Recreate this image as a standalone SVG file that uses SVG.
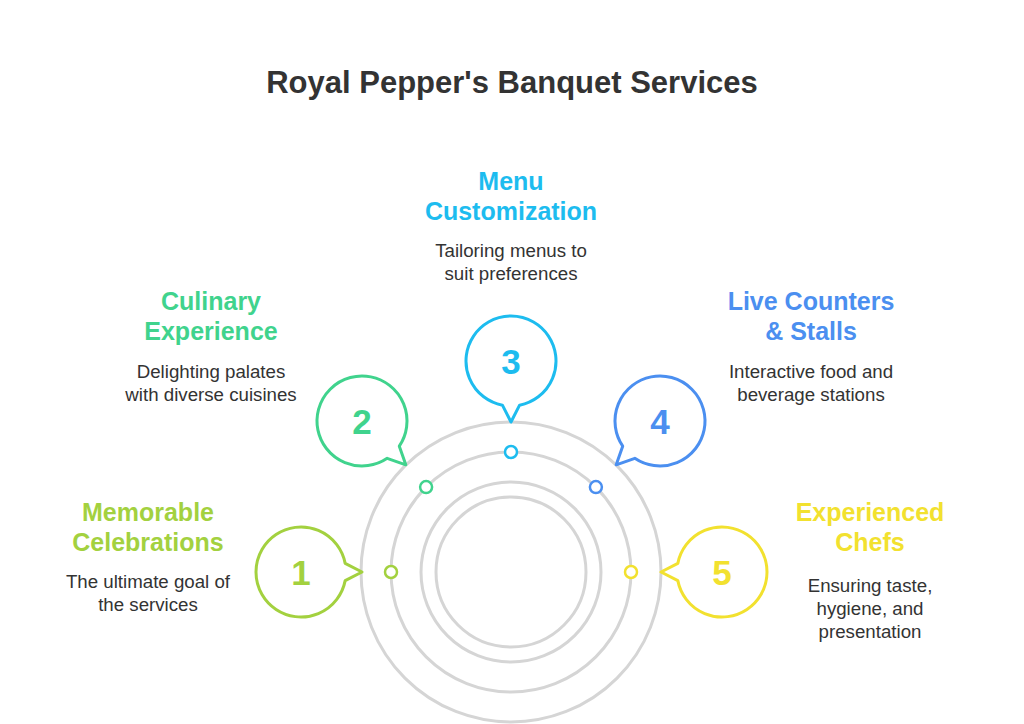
<svg xmlns="http://www.w3.org/2000/svg" width="1024" height="724" viewBox="0 0 1024 724">
<style>
.ring{fill:none;stroke:#d5d5d5;stroke-width:3}
.bub{fill:#fff;stroke-width:3;stroke-linejoin:round}
.dot{fill:#fff;stroke-width:2.5}
.num{font-family:"Liberation Sans",Arial,sans-serif;font-weight:bold;font-size:35px;text-anchor:middle}
.head{font-family:"Liberation Sans",Arial,sans-serif;font-weight:bold;font-size:25px;text-anchor:middle}
.desc{font-family:"Liberation Sans",Arial,sans-serif;font-size:18.7px;fill:#333;text-anchor:middle}
.title{font-family:"Liberation Sans",Arial,sans-serif;font-weight:bold;font-size:31px;fill:#333;text-anchor:middle}
.c1{stroke:#a3d13f;fill:#a3d13f}
.c2{stroke:#40d38d;fill:#40d38d}
.c3{stroke:#1dbcef;fill:#1dbcef}
.c4{stroke:#4b8ff0;fill:#4b8ff0}
.c5{stroke:#f2e12f;fill:#f2e12f}
</style>
<rect width="1024" height="724" fill="#fff"/>
<text class="title" x="512" y="93">Royal Pepper's Banquet Services</text>

<g id="rings">
<circle class="ring" cx="511" cy="572" r="150"/>
<circle class="ring" cx="511" cy="572" r="120"/>
<circle class="ring" cx="511" cy="572" r="90"/>
<circle class="ring" cx="511" cy="572" r="75"/>
</g>

<g id="connectors">
<circle class="dot" cx="391" cy="572" r="6" stroke="#a3d13f"/>
<circle class="dot" cx="426.1" cy="487.1" r="6" stroke="#40d38d"/>
<circle class="dot" cx="511" cy="452" r="6" stroke="#1dbcef"/>
<circle class="dot" cx="595.9" cy="487.1" r="6" stroke="#4b8ff0"/>
<circle class="dot" cx="631" cy="572" r="6" stroke="#f2e12f"/>
</g>

<g id="node1">
<path class="bub" stroke="#a3d13f" d="M 345.17 563.41 L 362 572 L 345.17 580.59 A 45 45 0 1 1 345.17 563.41 Z"/>
<text class="num" x="301" y="584.5" fill="#a3d13f">1</text>
<text class="head" x="148" y="521" fill="#a3d13f">Memorable</text>
<text class="head" x="148" y="551" fill="#a3d13f">Celebrations</text>
<text class="desc" x="148" y="588">The ultimate goal of</text>
<text class="desc" x="148" y="611">the services</text>
</g>

<g id="node2">
<path class="bub" stroke="#40d38d" d="M 399.3 446.2 L 405.8 464.8 L 387.2 458.3 A 45 45 0 1 1 399.3 446.2 Z"/>
<text class="num" x="362" y="433.5" fill="#40d38d">2</text>
<text class="head" x="211" y="310" fill="#40d38d">Culinary</text>
<text class="head" x="211" y="340" fill="#40d38d">Experience</text>
<text class="desc" x="211" y="378">Delighting palates</text>
<text class="desc" x="211" y="401">with diverse cuisines</text>
</g>

<g id="node3">
<path class="bub" stroke="#1dbcef" d="M 519.59 405.17 L 511 422 L 502.41 405.17 A 45 45 0 1 1 519.59 405.17 Z"/>
<text class="num" x="511" y="373.5" fill="#1dbcef">3</text>
<text class="head" x="511" y="190" fill="#1dbcef">Menu</text>
<text class="head" x="511" y="220" fill="#1dbcef">Customization</text>
<text class="desc" x="511" y="257">Tailoring menus to</text>
<text class="desc" x="511" y="280">suit preferences</text>
</g>

<g id="node4">
<path class="bub" stroke="#4b8ff0" d="M 634.8 458.3 L 616.2 464.8 L 622.7 446.2 A 45 45 0 1 1 634.8 458.3 Z"/>
<text class="num" x="660" y="433.5" fill="#4b8ff0">4</text>
<text class="head" x="811" y="310" fill="#4b8ff0">Live Counters</text>
<text class="head" x="811" y="340" fill="#4b8ff0">&amp; Stalls</text>
<text class="desc" x="811" y="378">Interactive food and</text>
<text class="desc" x="811" y="401">beverage stations</text>
</g>

<g id="node5">
<path class="bub" stroke="#f2e12f" d="M 677.83 580.59 L 661 572 L 677.83 563.41 A 45 45 0 1 1 677.83 580.59 Z"/>
<text class="num" x="722" y="584.5" fill="#f2e12f">5</text>
<text class="head" x="870" y="521" fill="#f2e12f">Experienced</text>
<text class="head" x="870" y="551" fill="#f2e12f">Chefs</text>
<text class="desc" x="870" y="592">Ensuring taste,</text>
<text class="desc" x="870" y="615">hygiene, and</text>
<text class="desc" x="870" y="638">presentation</text>
</g>
</svg>
